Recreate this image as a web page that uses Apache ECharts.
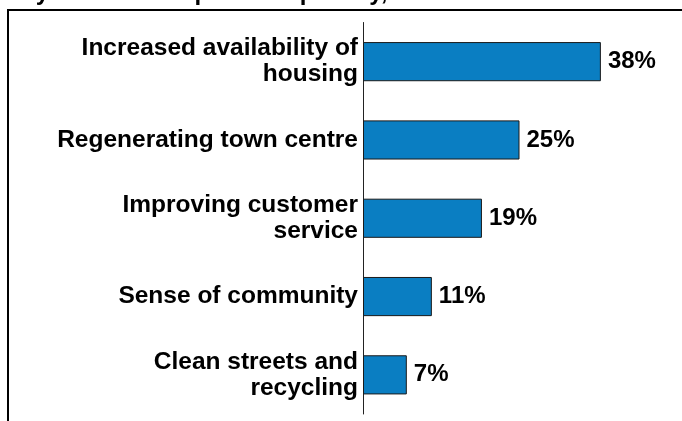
<!DOCTYPE html>
<html>
<head>
<meta charset="utf-8">
<script src="https://cdn.jsdelivr.net/npm/echarts@6/dist/echarts.min.js"></script>
<style>
html,body{margin:0;padding:0;background:#fff;}
#chart{width:682px;height:421px;}
</style>
</head>
<body>
<div id="chart"></div>
<script>
var titleText = 'Key issues to improve as priority, %';
var categories = ['Increased availability of\nhousing', 'Regenerating town centre', 'Improving customer\nservice', 'Sense of community', 'Clean streets and\nrecycling'];
var values = [38, 25, 19, 11, 7];

var chart = echarts.init(document.getElementById('chart'), null, {renderer: 'canvas'});
var font = 'Liberation Sans, Arial, sans-serif';
chart.setOption({
  animation: false,
  backgroundColor: '#ffffff',
  grid: {left: 363, top: 22.5, width: 250.4, height: 391.5, containLabel: false},
  xAxis: {type: 'value', min: 0, max: 40, show: false, splitLine: {show: false}},
  yAxis: {
    type: 'category', data: categories, inverse: true,
    axisLine: {show: true, lineStyle: {color: '#222', width: 1}},
    axisTick: {show: false},
    axisLabel: {margin: 5, color: '#000', fontWeight: 'bold', fontSize: 24.5, fontFamily: font, lineHeight: 26, align: 'right'}
  },
  series: [{
    type: 'bar', data: values, barWidth: '50%',
    itemStyle: {color: '#0A7EC2', borderColor: '#1a1a1a', borderWidth: 1},
    label: {show: true, position: 'right', distance: 7, formatter: '{c}%', color: '#000', fontWeight: 'bold', fontSize: 24, fontFamily: font}
  }],
  graphic: [
    {type: 'rect', silent: true, shape: {x: 8, y: 10, width: 700, height: 440}, style: {fill: 'none', stroke: '#000', lineWidth: 2}},
    {type: 'text', silent: true, x: 5, y: 5, style: {text: titleText, font: 'bold 24px Liberation Sans, Arial, sans-serif', fill: '#000', textVerticalAlign: 'bottom'}}
  ]
});
</script>
</body>
</html>
